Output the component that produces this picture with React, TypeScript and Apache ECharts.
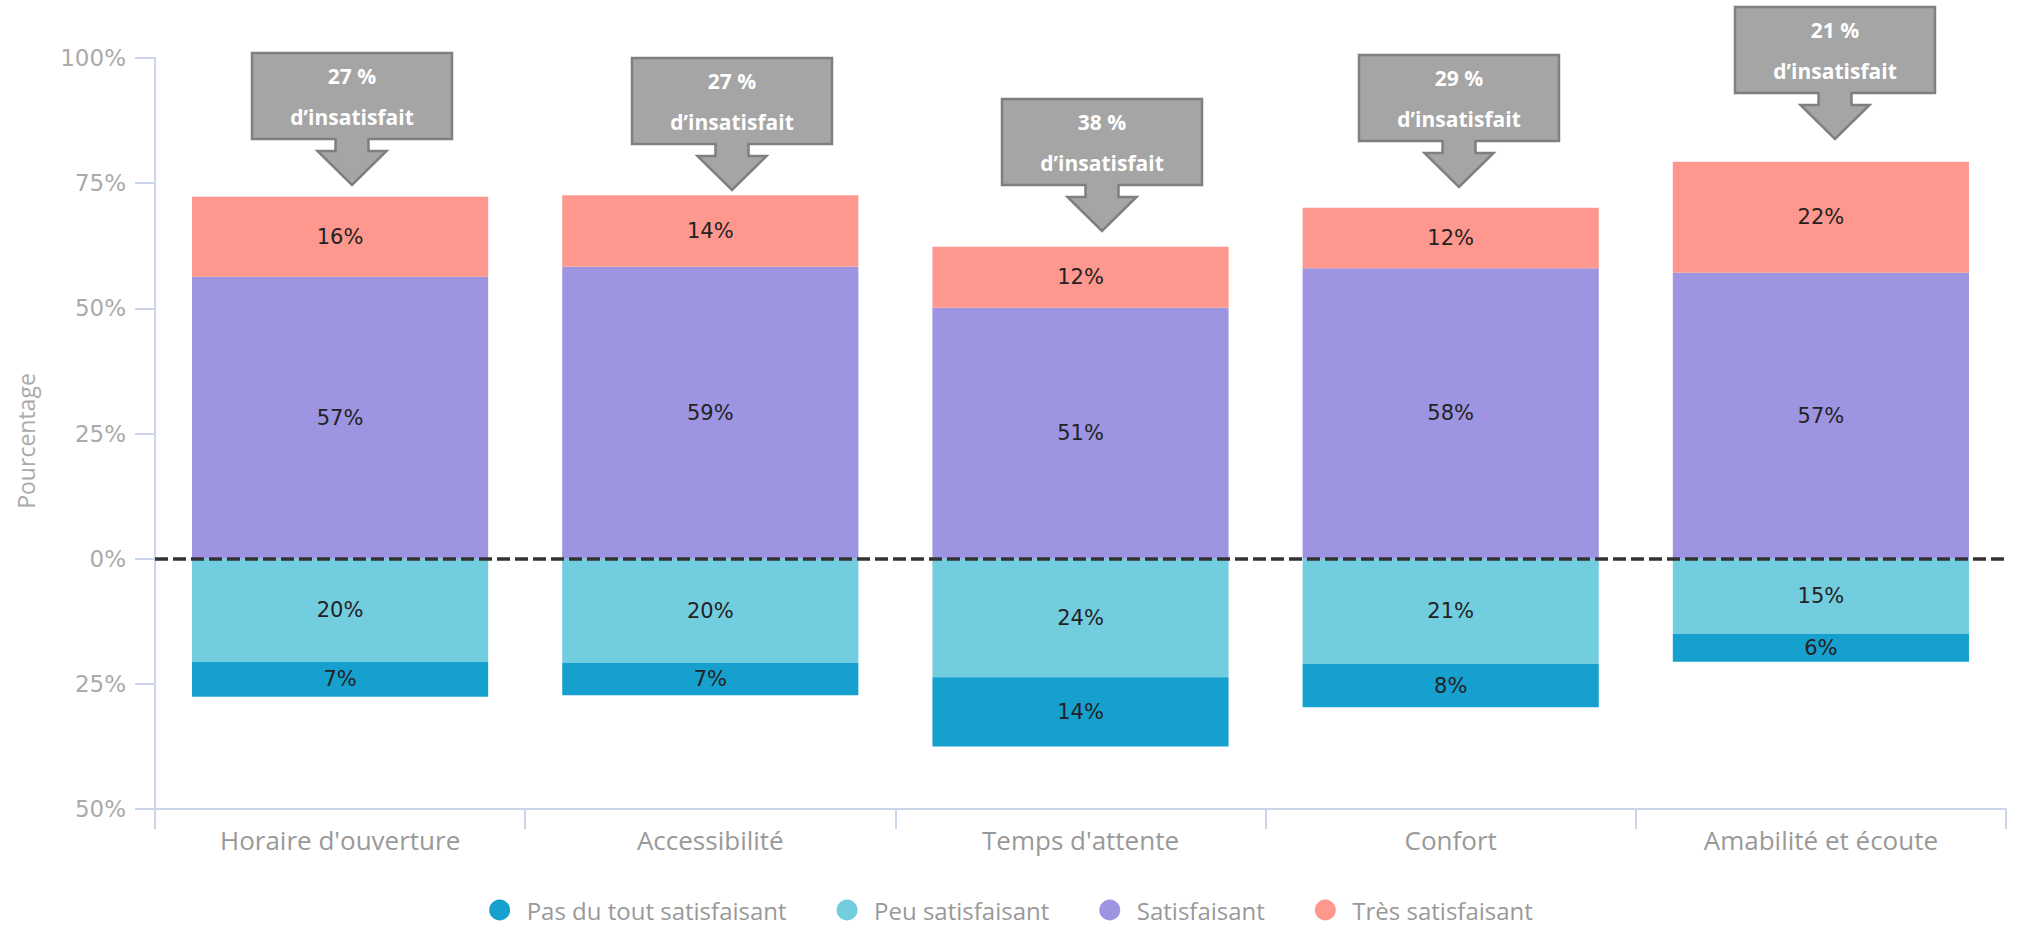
import React, { useEffect, useRef } from "react";
import * as echarts from "echarts";

// ---- Data ----
const categories = [
  "Horaire d'ouverture",
  "Accessibilité",
  "Temps d'attente",
  "Confort",
  "Amabilité et écoute",
];
const seriesNames = [
  "Pas du tout satisfaisant",
  "Peu satisfaisant",
  "Satisfaisant",
  "Très satisfaisant",
];
// bar segment sizes (%)
const pasDuTout = [-6.95, -6.5, -13.8, -8.7, -5.6];
const peu = [-20.65, -20.8, -23.7, -21.0, -15.0];
const satisfaisant = [56.3, 58.3, 50.1, 58.0, 57.1];
const tres = [16.0, 14.3, 12.2, 12.1, 22.2];
// printed labels
const pasLabels = [7, 7, 14, 8, 6];
const peuLabels = [20, 20, 24, 21, 15];
const satLabels = [57, 59, 51, 58, 57];
const tresLabels = [16, 14, 12, 12, 22];
const insatisfaitLabels = [27, 27, 38, 29, 21];
const yTicks = { min: -50, max: 100, interval: 25 };

// ---- Layout / styles ----
const COLORS = {
  pas: "#16a0ce",
  peu: "#72cddf",
  sat: "#9e95e2",
  tres: "#fe978d",
};
const calloutCenters = [352, 732, 1102, 1459, 1835];
const calloutTops = [53, 58, 99, 55, 7];

function calloutPoints() {
  const hw = 100, h = 86, sw = 16.5, hd = 34.5, sh = 98, tip = 132;
  return [
    [-hw, 0], [hw, 0], [hw, h], [sw, h], [sw, sh], [hd, sh], [0, tip],
    [-hd, sh], [-sw, sh], [-sw, h], [-hw, h],
  ];
}

export default function App() {
  const ref = useRef<HTMLDivElement>(null);
  useEffect(() => {
    document.body.style.margin = "0";
    const chart = echarts.init(ref.current!, undefined, { renderer: "svg" });
    const labelStyle = (arr: number[]) => ({
      show: true,
      position: "inside",
      color: "#222",
      fontFamily: "DejaVu Sans",
      fontSize: 21,
      formatter: (p: any) => arr[p.dataIndex] + "%",
    });
    const callouts = insatisfaitLabels.map((v, i) => ({
      type: "group",
      x: calloutCenters[i],
      y: calloutTops[i],
      children: [
        {
          type: "polygon",
          shape: { points: calloutPoints() },
          style: { fill: "#a5a5a5", stroke: "#7f7f7f", lineWidth: 2.5 },
        },
        {
          type: "text",
          x: 0,
          y: 43,
          style: {
            text: v + " %\nd’insatisfait",
            fill: "#ffffff",
            fontFamily: "Open Sans",
            fontWeight: "bold",
            fontSize: 21,
            lineHeight: 41,
            align: "center",
            verticalAlign: "middle",
          },
        },
      ],
    }));
    chart.setOption({
      animation: false,
      backgroundColor: "#ffffff",
      grid: { left: 155, right: 16, top: 58, bottom: 120, containLabel: false },
      legend: {
        data: seriesNames,
        bottom: 2,
        left: "center",
        icon: "circle",
        itemWidth: 44,
        itemHeight: 21,
        itemGap: 50,
        textStyle: { color: "#999", fontFamily: "Open Sans", fontSize: 24 },
      },
      xAxis: {
        type: "category",
        data: categories,
        axisLine: { onZero: false, lineStyle: { color: "#ccd6eb", width: 2 } },
        axisTick: { show: true, length: 20, lineStyle: { color: "#ccd6eb", width: 2 } },
        axisLabel: {
          color: "#999",
          fontFamily: "Open Sans",
          fontSize: 26,
          margin: 18,
        },
      },
      yAxis: {
        type: "value",
        min: yTicks.min,
        max: yTicks.max,
        interval: yTicks.interval,
        splitLine: { show: false },
        axisLine: { show: true, lineStyle: { color: "#ccd6eb", width: 2 } },
        axisTick: { show: true, length: 20, lineStyle: { color: "#ccd6eb", width: 2 } },
        axisLabel: {
          color: "#aaa",
          fontFamily: "DejaVu Sans",
          fontSize: 23,
          margin: 29,
          formatter: (v: number) => Math.abs(v) + "%",
        },
      },
      series: [
        {
          name: seriesNames[1],
          type: "bar",
          stack: "s",
          barCategoryGap: "20%",
          data: peu,
          itemStyle: { color: COLORS.peu },
          label: labelStyle(peuLabels),
        },
        {
          name: seriesNames[0],
          type: "bar",
          stack: "s",
          data: pasDuTout,
          itemStyle: { color: COLORS.pas },
          label: labelStyle(pasLabels),
        },
        {
          name: seriesNames[2],
          type: "bar",
          stack: "s",
          data: satisfaisant,
          itemStyle: { color: COLORS.sat },
          label: labelStyle(satLabels),
        },
        {
          name: seriesNames[3],
          type: "bar",
          stack: "s",
          data: tres,
          itemStyle: { color: COLORS.tres },
          label: labelStyle(tresLabels),
          markLine: {
            silent: true,
            symbol: "none",
            label: { show: false },
            lineStyle: { color: "#333", width: 3.5, type: [13, 5] },
            data: [{ yAxis: 0 }],
          },
        },
      ],
      graphic: [
        {
          type: "text",
          x: 26,
          y: 441,
          rotation: Math.PI / 2,
          style: {
            text: "Pourcentage",
            fill: "#aaa",
            fontFamily: "Open Sans",
            fontSize: 23,
            align: "center",
            verticalAlign: "middle",
          },
        },
        ...callouts,
      ],
    });
    return () => chart.dispose();
  }, []);
  return (
    <div
      ref={ref}
      style={{ position: "absolute", left: 0, top: 0, width: 2022, height: 929 }}
    />
  );
}
